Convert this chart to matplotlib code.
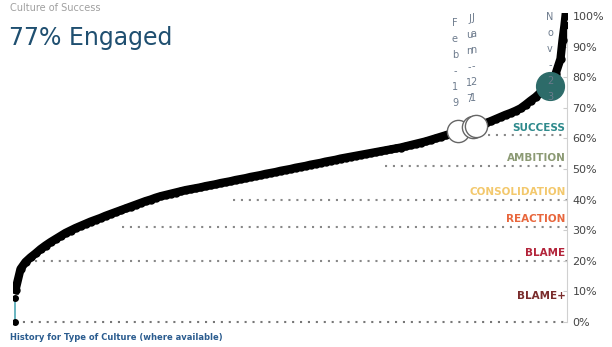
import matplotlib
matplotlib.use("Agg")
import matplotlib.pyplot as plt
import numpy as np

# sorted engagement scores (%), one per rank
scores = [10.5, 17.3, 19.6, 21.1, 22.4, 23.8, 25.0, 26.1, 27.1, 28.1,
          29.1, 29.9, 30.7, 31.4, 32.1, 32.8, 33.4, 34.0, 34.7, 35.3,
          35.9, 36.5, 37.1, 37.7, 38.3, 38.9, 39.5, 40.0, 40.6, 41.1,
          41.5, 41.9, 42.3, 42.7, 43.1, 43.4, 43.7, 44.0, 44.4, 44.7,
          45.0, 45.4, 45.7, 46.0, 46.4, 46.7, 47.0, 47.4, 47.7, 48.0,
          48.4, 48.7, 49.0, 49.4, 49.7, 50.0, 50.4, 50.7, 51.0, 51.4,
          51.7, 52.0, 52.4, 52.7, 53.0, 53.4, 53.7, 54.0, 54.3, 54.6,
          54.9, 55.2, 55.5, 55.8, 56.1, 56.4, 56.7, 57.0, 57.4, 57.8,
          58.2, 58.6, 59.0, 59.5, 60.0, 60.5, 61.0, 61.5, 62.0, 62.5,
          63.0, 63.5, 64.0, 64.5, 65.0, 65.6, 66.3, 67.0, 67.7, 68.3,
          69.0, 69.8, 71.0, 72.3, 73.5, 75.0, 76.5, 78.5, 81.0, 86.0,
          92.0, 97.0, 100.0]
score_rank = list(range(len(scores) - 3)) + [109.4, 109.8, 110.0]
low_scores = [0, 8]

# history points: rank, value, label
hist_rank = [88.5, 91.4, 92.1]
hist_value = [62.4, 63.6, 64.1]
hist_label = ["Feb-19", "Jun-17", "Jan-21"]
current_rank = 106.9
current_value = 77
current_label = "Nov-23"

# culture bands (BLAME+ has no line)
band_names = ["SUCCESS", "AMBITION", "CONSOLIDATION", "REACTION", "BLAME", "BLAME+"]
band_level = [61, 51, 40, 31, 20, 6]
band_start = [94.5, 73.9, 43.5, 21.3, 3.9, None]
band_colors = ["#2e8a8c", "#8c9a74", "#f3c86c", "#e8663c", "#b3243a", "#7a2c2c"]

yticks = list(range(0, 101, 10))

fig = plt.figure(figsize=(6.12, 3.47), dpi=100)
W, H = 612, 347
x0, x1 = 13, 567
y0, y1 = 325.06, 12.94
ax = fig.add_axes([x0 / W, 1 - y0 / H, (x1 - x0) / W, (y0 - y1) / H])
ax.set_xlim(-0.5, 110.3)
ax.set_ylim(-1, 101)

for sp in ["left", "top", "bottom"]:
    ax.spines[sp].set_visible(False)
ax.spines["right"].set_color("#d0d0d0")
ax.spines["right"].set_bounds(0, 100)
ax.yaxis.tick_right()
ax.set_xticks([])
ax.set_yticks(yticks)
ax.set_yticklabels(["%d%%" % v for v in yticks])
ax.tick_params(axis="y", direction="in", length=3, color="#cccccc",
               labelsize=8, labelcolor="#444444", pad=4)

# dotted band lines
ax.plot([-0.1, 110.3], [0, 0], color="#777777", lw=1.5,
        linestyle=(0, (1, 2.8)), zorder=1)
for lvl, start in zip(band_level, band_start):
    if start is None:
        continue
    ax.plot([start, 110.3], [lvl, lvl], color="#888888", lw=1.5,
            linestyle=(0, (1, 2.8)), zorder=1)
for name, lvl, c in zip(band_names, band_level, band_colors):
    ax.text(110.0, lvl + 2.5, name, color=c, fontsize=7.5, fontweight="bold",
            ha="right", va="center", zorder=2)

# low outliers with connector
ax.plot([-0.1, -0.1], low_scores, color="#4fa8b5", lw=1.2, zorder=3)
ax.plot([-0.1, -0.1], low_scores, "o", color="black", ms=4, zorder=4)

# sorted distribution
ax.plot(score_rank, scores, color="black", lw=6, zorder=4)
ax.plot(score_rank, scores, "o", color="black", ms=5, zorder=4)

# history markers
for r, v, lab in zip(hist_rank, hist_value, hist_label):
    ax.plot(r, v, "o", ms=16, mfc="white", mec="#666666", mew=1, zorder=5)
    ax.text(r - 0.6, v + 7.5, "\n".join(lab), fontsize=7, color="#6d7b8d",
            ha="center", va="bottom", linespacing=1.75, zorder=6)

ax.plot(current_rank, current_value, "o", ms=20, color="#2d6b69", zorder=5)
ax.text(current_rank, current_value - 5, "\n".join(current_label), fontsize=7,
        color="#6d7b8d", ha="center", va="bottom", linespacing=1.75, zorder=6)

fig.text(10 / W, 1 - 8 / H, "Culture of Success", fontsize=7, color="#a0a0a0",
         ha="left", va="center")
fig.text(9 / W, 1 - 38 / H, "77% Engaged", fontsize=17, color="#1f4f70",
         ha="left", va="center")
fig.text(10 / W, 1 - 338 / H, "History for Type of Culture (where available)",
         fontsize=6, fontweight="bold", color="#2b5c8f", ha="left", va="center")

fig.savefig("out.png", dpi=100)
